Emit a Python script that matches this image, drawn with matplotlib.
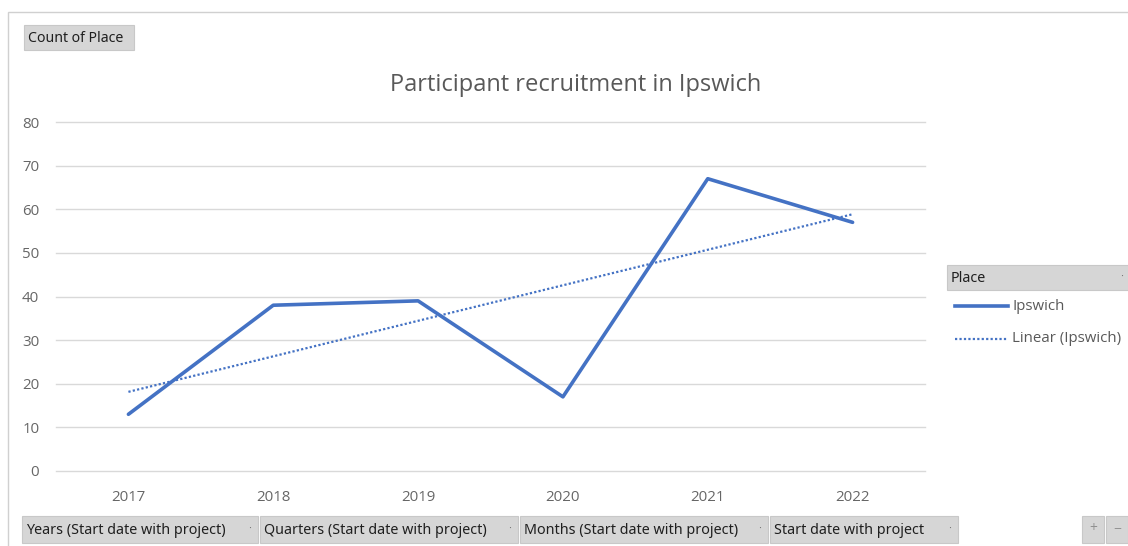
import matplotlib
matplotlib.use("Agg")
import matplotlib.pyplot as plt
import numpy as np
from matplotlib.patches import Rectangle
from matplotlib.lines import Line2D

years = ["2017", "2018", "2019", "2020", "2021", "2022"]
counts = [13, 38, 39, 17, 67, 57]
yticks = [0, 10, 20, 30, 40, 50, 60, 70, 80]
title = "Participant recruitment in Ipswich"
legend_title = "Place"
series_name = "Ipswich"
trend_name = "Linear (Ipswich)"
field_buttons = ["Years (Start date with project)", "Quarters (Start date with project)",
                 "Months (Start date with project)", "Start date with project"]

W, H = 1128, 546
plt.rcParams['font.family'] = ['Open Sans', 'DejaVu Sans']
fig = plt.figure(figsize=(W / 100, H / 100), dpi=100)

def fx(px):
    return px / W

def fy(py):
    return 1 - py / H

# outer border
fig.add_artist(Rectangle((fx(8), fy(560)), fx(1200), 548 / H, transform=fig.transFigure,
                         fill=False, edgecolor="#d0d0d0", lw=1))

ax = fig.add_axes([fx(56), fy(471), fx(925 - 56), (471 - 122) / H])
blue = "#4472C4"
x = np.arange(len(years))
ax.plot(x, counts, color=blue, lw=2.6, solid_capstyle="round", zorder=3)
coef = np.polyfit(x, counts, 1)
xt = np.array([0, len(years) - 1])
ax.plot(xt, np.polyval(coef, xt), color=blue, lw=1.6, linestyle=(0, (1, 1)), zorder=3)

ax.set_xlim(-0.5, len(years) - 0.5)
ax.set_ylim(0, 80)
ax.set_yticks(yticks)
ax.set_xticks(x)
ax.set_xticklabels(years)
for s in ax.spines.values():
    s.set_visible(False)
ax.grid(axis="y", color="#d9d9d9", lw=1)
for gl in ax.get_ygridlines():
    gl.set_clip_on(False)
ax.set_axisbelow(True)
ax.tick_params(length=0, labelsize=10.8, labelcolor="#666666")
ax.tick_params(axis="y", pad=12)
ax.tick_params(axis="x", pad=14)

fig.text(fx(576), fy(85), title, ha="center", va="center", fontsize=17, color="#595959")

BTN_FONT = ['Noto Sans', 'DejaVu Sans']

def button(x0, y0, x1, y1, text, fs=10.3, arrow=False):
    fig.add_artist(Rectangle((fx(x0), fy(y1)), fx(x1 - x0), (y1 - y0) / H,
                             transform=fig.transFigure, facecolor="#d6d6d6",
                             edgecolor="#c8c8c8", lw=0.8))
    fig.text(fx(x0 + 4), fy((y0 + y1) / 2 + 1), text, ha="left", va="center",
             fontsize=fs, color="#1f1f1f", family=BTN_FONT)
    if arrow:
        fig.text(fx(x1 - 8), fy((y0 + y1) / 2), "·", ha="center", va="center",
                 fontsize=8, color="#707070")

button(24, 25, 134, 50, "Count of Place", fs=10.2)

# legend
button(947, 265, 1130, 290, legend_title, arrow=True)
fig.add_artist(Line2D([fx(955), fx(1008)], [fy(306), fy(306)], transform=fig.transFigure,
                      color=blue, lw=2.6))
fig.text(fx(1012), fy(306), series_name, ha="left", va="center", fontsize=10.8, color="#595959")
fig.add_artist(Line2D([fx(955), fx(1008)], [fy(339), fy(339)], transform=fig.transFigure,
                      color=blue, lw=1.6, linestyle=(0, (1, 1))))
fig.text(fx(1012), fy(339), trend_name, ha="left", va="center", fontsize=10.8, color="#595959")

# field buttons
bounds = [(22, 258), (260, 518), (520, 768), (770, 958)]
for (a, b), t in zip(bounds, field_buttons):
    button(a, 516, b, 543, t, arrow=True)

button(1082, 516, 1104, 543, "", arrow=False)
button(1106, 516, 1128, 543, "", arrow=False)
fig.text(fx(1093), fy(529), "+", ha="center", va="center", fontsize=10, color="#909090")
fig.text(fx(1117), fy(529), "−", ha="center", va="center", fontsize=10, color="#909090")

fig.savefig("out.png", dpi=100)
